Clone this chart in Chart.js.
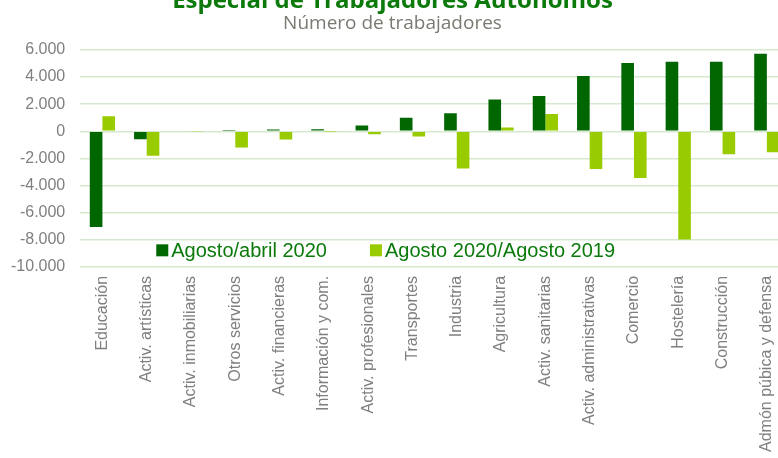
<!DOCTYPE html>
<html>
<head>
<meta charset="utf-8">
<script src="https://cdn.jsdelivr.net/npm/chart.js@4"></script>
<style>
  html, body { margin: 0; padding: 0; background: #fff; }
  #frame { position: relative; width: 778px; height: 458px; overflow: hidden; }
  #wrap { position: absolute; left: 0; top: -11px; width: 800px; height: 476px; }
</style>
</head>
<body>
<div id="frame"><div id="wrap"><canvas id="chart"></canvas></div></div>
<script>
const sectores = [
  "Educación", "Activ. artísticas", "Activ. inmobiliarias", "Otros servicios",
  "Activ. financieras", "Información y com.", "Activ. profesionales", "Transportes",
  "Industria", "Agricultura", "Activ. sanitarias", "Activ. administrativas",
  "Comercio", "Hostelería", "Construcción", "Admón púbica y defensa"
]
const agostoAbril2020 = [-7050, -590, 50, 90, 130, 150, 420, 1000, 1320, 2350, 2600, 4070, 5030, 5120, 5120, 5710]
const agosto2020vs2019 = [1100, -1810, -30, -1200, -600, -20, -220, -390, -2740, 270, 1270, -2790, -3450, -7990, -1690, -1550]
const yTicks = [6000, 4000, 2000, 0, -2000, -4000, -6000, -8000, -10000]

const fmt = (v) => {
  const s = Math.abs(v).toString().replace(/\B(?=(\d{3})+(?!\d))/g, ".")
  return (v < 0 ? "-" : "") + s
}

// legend drawn inside the plot area, like the original
const innerLegend = {
  id: "innerLegend",
  afterDraw(chart) {
    const { ctx, chartArea, scales } = chart
    const y = scales.y.getPixelForValue(-9000) - 3
    let x = chartArea.left + 76
    ctx.save()
    ctx.font = "20px 'Liberation Sans', Arial, sans-serif"
    ctx.textBaseline = "middle"
    chart.data.datasets.forEach((ds) => {
      ctx.fillStyle = ds.backgroundColor
      ctx.fillRect(x, y - 6, 12, 12)
      x += 15
      ctx.fillStyle = "#0b7a0b"
      ctx.fillText(ds.label, x, y + 1)
      x += ctx.measureText(ds.label).width + 43
    })
    ctx.restore()
  }
}

new Chart(document.getElementById("chart").getContext("2d"), {
  type: "bar",
  data: {
    labels: sectores,
    datasets: [
      { label: "Agosto/abril 2020", data: agostoAbril2020, backgroundColor: "#006600" },
      { label: "Agosto 2020/Agosto 2019", data: agosto2020vs2019, backgroundColor: "#99cc00" }
    ]
  },
  options: {
    responsive: true,
    maintainAspectRatio: false,
    animation: false,
    layout: { padding: { left: -4, right: 11, bottom: 4 } },
    datasets: { bar: { categoryPercentage: 0.57, barPercentage: 1.0 } },
    plugins: {
      legend: { display: false },
      tooltip: { enabled: false },
      title: {
        display: true,
        text: "Especial de Trabajadores Autónomos",
        color: "#0b7a0b",
        font: { family: "'Open Sans', sans-serif", size: 24, weight: "bold", lineHeight: 1.0 },
        padding: 0
      },
      subtitle: {
        display: true,
        text: "Número de trabajadores",
        color: "#7a7a72",
        font: { family: "'Open Sans', sans-serif", size: 19, lineHeight: 1.1 },
        padding: { top: 0, bottom: 16 }
      }
    },
    scales: {
      x: {
        grid: { display: false, drawTicks: false },
        border: { display: false },
        ticks: {
          autoSkip: false,
          minRotation: 90,
          maxRotation: 90,
          padding: 9,
          color: "#7f7f7f",
          font: { family: "'Liberation Sans', Arial, sans-serif", size: 16 }
        }
      },
      y: {
        min: -10000,
        max: 6000,
        afterBuildTicks: (axis) => { axis.ticks = yTicks.map((v) => ({ value: v })) },
        grid: { color: "#d6e9cf", lineWidth: 1.5, drawTicks: false },
        border: { display: false },
        ticks: {
          padding: 15,
          color: "#7f7f7f",
          font: { family: "'Liberation Sans', Arial, sans-serif", size: 16 },
          callback: (v) => fmt(v)
        }
      }
    }
  },
  plugins: [innerLegend]
})
</script>
</body>
</html>
